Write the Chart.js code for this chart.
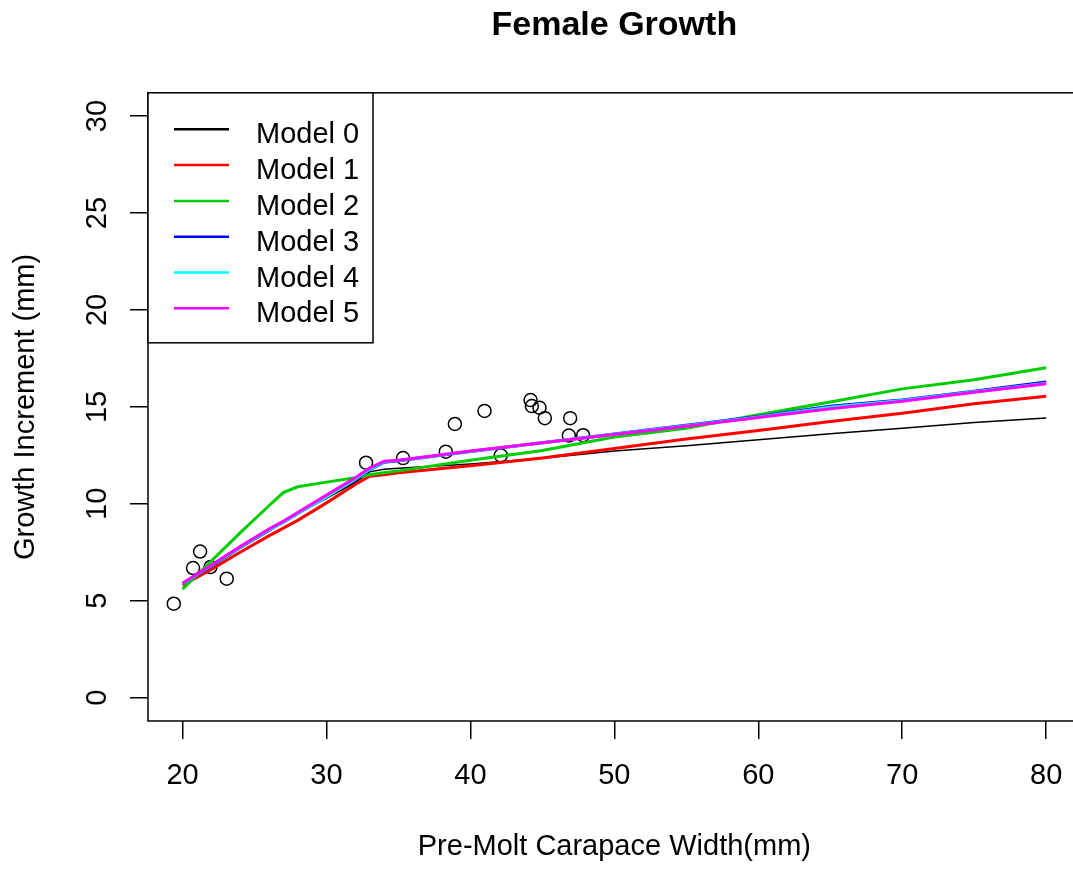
<!DOCTYPE html>
<html>
<head>
<meta charset="utf-8">
<script src="https://cdn.jsdelivr.net/npm/chart.js@4/dist/chart.umd.min.js"></script>
<style>
  html, body { margin: 0; padding: 0; background: #fff; overflow: hidden; }
  #wrap { width: 1090px; height: 869px; }
</style>
</head>
<body>
<div id="wrap"><canvas id="c" width="1090" height="869"></canvas></div>
<script>
// ---- data ----
const xGrid = [20, 22, 24, 26, 27, 28, 30, 32, 33, 34, 35, 40, 45, 50, 55, 60, 65, 70, 75, 80];
const model0 = [5.85, 6.75, 7.70, 8.60, 9.05, 9.50, 10.28, 11.10, 11.65, 11.79, 11.83, 12.05, 12.35, 12.72, 13.00, 13.30, 13.62, 13.90, 14.20, 14.43];
const model1 = [5.80, 6.62, 7.50, 8.35, 8.75, 9.15, 10.05, 11.00, 11.42, 11.50, 11.60, 11.96, 12.36, 12.86, 13.34, 13.78, 14.25, 14.67, 15.16, 15.55];
const model2 = [5.60, 7.05, 8.50, 9.90, 10.58, 10.88, 11.12, 11.35, 11.50, 11.60, 11.70, 12.25, 12.75, 13.45, 13.90, 14.60, 15.25, 15.93, 16.40, 17.02];
const model3 = [5.88, 6.80, 7.75, 8.65, 9.05, 9.50, 10.38, 11.25, 11.75, 12.15, 12.22, 12.70, 13.15, 13.60, 14.05, 14.50, 15.03, 15.36, 15.81, 16.28];
const model4 = [5.88, 6.82, 7.76, 8.66, 9.07, 9.52, 10.36, 11.28, 11.78, 12.17, 12.23, 12.71, 13.15, 13.59, 14.03, 14.48, 14.98, 15.33, 15.78, 16.22];
const model5 = [5.90, 6.85, 7.80, 8.70, 9.10, 9.55, 10.45, 11.35, 11.85, 12.20, 12.25, 12.72, 13.15, 13.58, 14.00, 14.45, 14.90, 15.29, 15.76, 16.19];
const obsX = [19.39, 20.73, 21.22, 21.94, 23.07, 32.75, 35.32, 38.29, 38.92, 40.98, 42.11, 44.18, 44.27, 44.80, 45.17, 46.93, 46.84, 47.83];
const obsY = [4.85, 6.69, 7.54, 6.74, 6.14, 12.12, 12.36, 12.69, 14.12, 14.79, 12.50, 15.35, 15.04, 14.96, 14.42, 14.42, 13.52, 13.54];
const modelNames = ['Model 0', 'Model 1', 'Model 2', 'Model 3', 'Model 4', 'Model 5'];
const xTicks = [20, 30, 40, 50, 60, 70, 80];
const yTicks = [0, 5, 10, 15, 20, 25, 30];

// ---- styles ----
const FONT = "'Liberation Sans', Arial, Helvetica, sans-serif";
const colors = ['#000000', '#FF0000', '#00CD00', '#0000FF', '#00FFFF', '#FF00FF'];
const widths = [1.5, 3, 3, 3, 3, 3];
const series = [model0, model1, model2, model3, model4, model5];

const lineSets = series.map((s, i) => ({
  type: 'line',
  label: modelNames[i],
  data: xGrid.map((x, k) => ({x: x, y: s[k]})),
  borderColor: colors[i],
  backgroundColor: colors[i],
  borderWidth: widths[i],
  pointRadius: 0,
  tension: 0,
  fill: false,
  order: 6 - i
}));

const pointSet = {
  type: 'scatter',
  label: 'Observed',
  data: obsX.map((x, k) => ({x: x, y: obsY[k]})),
  borderColor: '#000',
  backgroundColor: 'rgba(0,0,0,0)',
  borderWidth: 1.5,
  pointRadius: 6.5,
  pointStyle: 'circle',
  showLine: false,
  order: 20
};

const boxPlugin = {
  id: 'rbox',
  afterDraw(chart) {
    const {ctx, chartArea: ca} = chart;
    ctx.save();
    ctx.strokeStyle = '#000';
    ctx.lineWidth = 1.5;
    ctx.strokeRect(ca.left, ca.top, ca.right - ca.left, ca.bottom - ca.top);
    // legend
    const bw = 225, bh = 250;
    ctx.fillStyle = '#fff';
    ctx.fillRect(ca.left, ca.top, bw, bh);
    ctx.strokeRect(ca.left, ca.top, bw, bh);
    ctx.font = '29px ' + FONT;
    ctx.textAlign = 'left';
    ctx.textBaseline = 'alphabetic';
    chart.data.datasets.filter(d => d.type === 'line').forEach((d, i) => {
      const ly = ca.top + 36.5 + 35.8 * i;
      ctx.strokeStyle = d.borderColor;
      ctx.lineWidth = 2.5;
      ctx.beginPath();
      ctx.moveTo(ca.left + 26, ly);
      ctx.lineTo(ca.left + 81, ly);
      ctx.stroke();
      ctx.fillStyle = '#000';
      ctx.fillText(d.label, ca.left + 108, ca.top + 50.5 + 35.8 * i);
    });
    ctx.restore();
  }
};

new Chart(document.getElementById('c'), {
  data: { datasets: [pointSet, ...lineSets] },
  options: {
    responsive: false,
    animation: false,
    devicePixelRatio: 1,
    layout: { padding: { top: 0, right: 9.3, bottom: 0, left: 0 } },
    plugins: {
      legend: { display: false },
      tooltip: { enabled: false },
      title: {
        display: true,
        fullSize: false,
        text: 'Female Growth',
        color: '#000',
        font: { family: FONT, size: 34, weight: 'bold', lineHeight: 1.2 },
        padding: { top: 5, bottom: 47 }
      }
    },
    scales: {
      x: {
        type: 'linear',
        position: 'bottom',
        min: 17.6,
        max: 82.4,
        afterBuildTicks: s => { s.ticks = xTicks.map(v => ({value: v})); },
        afterFit: s => { s.height = 148; },
        border: { display: false },
        grid: { drawOnChartArea: false, drawTicks: true, tickLength: 18, color: '#000', lineWidth: 1.5 },
        ticks: {
          color: '#000', padding: 20, maxRotation: 0, minRotation: 0, autoSkip: false,
          font: { family: FONT, size: 29, lineHeight: 1.2 },
          callback: v => String(v)
        },
        title: {
          display: true, text: 'Pre-Molt Carapace Width(mm)', color: '#000',
          font: { family: FONT, size: 29, lineHeight: 1.2 },
          padding: { top: 0, bottom: 4.6 }
        }
      },
      y: {
        type: 'linear',
        position: 'left',
        min: -1.2,
        max: 31.2,
        afterBuildTicks: s => { s.ticks = yTicks.map(v => ({value: v})); },
        afterFit: s => { s.width = 148; },
        border: { display: false },
        grid: { drawOnChartArea: false, drawTicks: true, tickLength: 18, color: '#000', lineWidth: 1.5 },
        ticks: {
          color: '#000', padding: 16, minRotation: 90, maxRotation: 90, crossAlign: 'center', autoSkip: false,
          font: { family: FONT, size: 29, lineHeight: 1.2 },
          callback: v => String(v)
        },
        title: {
          display: true, text: 'Growth Increment (mm)', color: '#000',
          font: { family: FONT, size: 29, lineHeight: 1.2 },
          padding: { top: 8.6, bottom: 0 }
        }
      }
    }
  },
  plugins: [boxPlugin]
});
</script>
</body>
</html>
